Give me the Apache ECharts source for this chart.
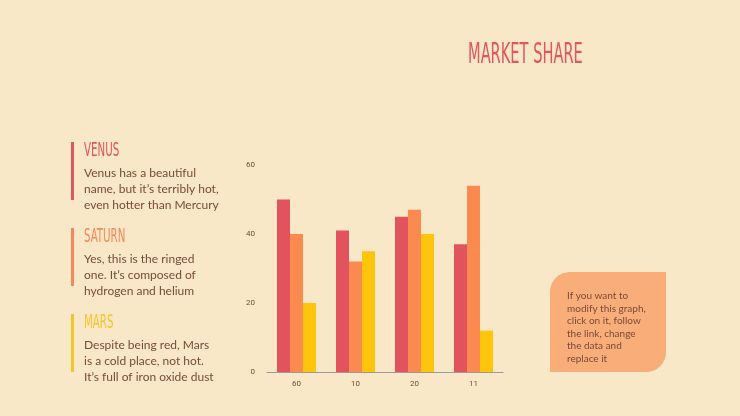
<!DOCTYPE html><html><head><meta charset="utf-8"><script src="https://cdn.jsdelivr.net/npm/echarts@6/dist/echarts.min.js"></script>
<style>html,body{margin:0;background:#f9e8c7}#c{width:740px;height:416px}</style></head><body><div id="c"></div><script>
const categories=['60','10','20','11'];
const venus=[50,41,45,37];
const saturn=[40,32,47,54];
const mars=[20,35,40,12];
const yTicks=[0,20,40,60];
const txt='#7a4a3a', nf='"DejaVu Sans Condensed","Liberation Sans",sans-serif';
function block(y,title,color,lines){return [
 {type:'rect',shape:{x:71,y:y,width:3,height:58},style:{fill:color}},
 {type:'text',x:84,y:y,scaleX:0.6,style:{text:title,font:'19px '+nf,fill:color}},
 {type:'text',x:84,y:y+23,style:{text:lines.join('\n'),font:'12px Lato, sans-serif',fill:txt,lineHeight:16}}];}
const chart=echarts.init(document.getElementById('c'));
chart.setOption({
 backgroundColor:'#f9e8c7',
 grid:{left:267,right:237,top:165,bottom:44},
 xAxis:{type:'category',data:categories,axisTick:{show:false},axisLine:{lineStyle:{color:'#999'}},axisLabel:{fontSize:8,color:txt,fontFamily:'Roboto'}},
 yAxis:{type:'value',min:0,max:60,interval:20,splitLine:{show:false},axisLabel:{fontSize:8,color:txt,fontFamily:'Roboto',margin:12,customValues:yTicks}},
 series:[
  {type:'bar',data:venus,barWidth:13,barGap:'0%',itemStyle:{color:'#e3535d'}},
  {type:'bar',data:saturn,barWidth:13,barGap:'0%',itemStyle:{color:'#fb8a50'}},
  {type:'bar',data:mars,barWidth:13,barGap:'0%',itemStyle:{color:'#ffc40c'}}],
 graphic:[
  {type:'text',x:370,y:42,originX:370,scaleX:0.58,style:{text:'MARKET SHARE',font:'28px '+nf,fill:'#e0565c',align:'center'}},
  ...block(142,'VENUS','#e0565c',['Venus has a beautiful','name, but it\u2019s terribly hot,','even hotter than Mercury']),
  ...block(228,'SATURN','#f4895a',['Yes, this is the ringed','one. It\u2019s composed of','hydrogen and helium']),
  ...block(314,'MARS','#f7c52a',['Despite being red, Mars','is a cold place, not hot.','It\u2019s full of iron oxide dust']),
  {type:'rect',shape:{x:550,y:272,width:116,height:100,r:[20,0,20,0]},style:{fill:'#f9ad78'}},
  {type:'text',x:567,y:290,style:{text:'If you want to\nmodify this graph,\nclick on it, follow\nthe link, change\nthe data and\nreplace it',font:'10px Lato, sans-serif',fill:txt,lineHeight:12.5}}]
});
</script></body></html>
